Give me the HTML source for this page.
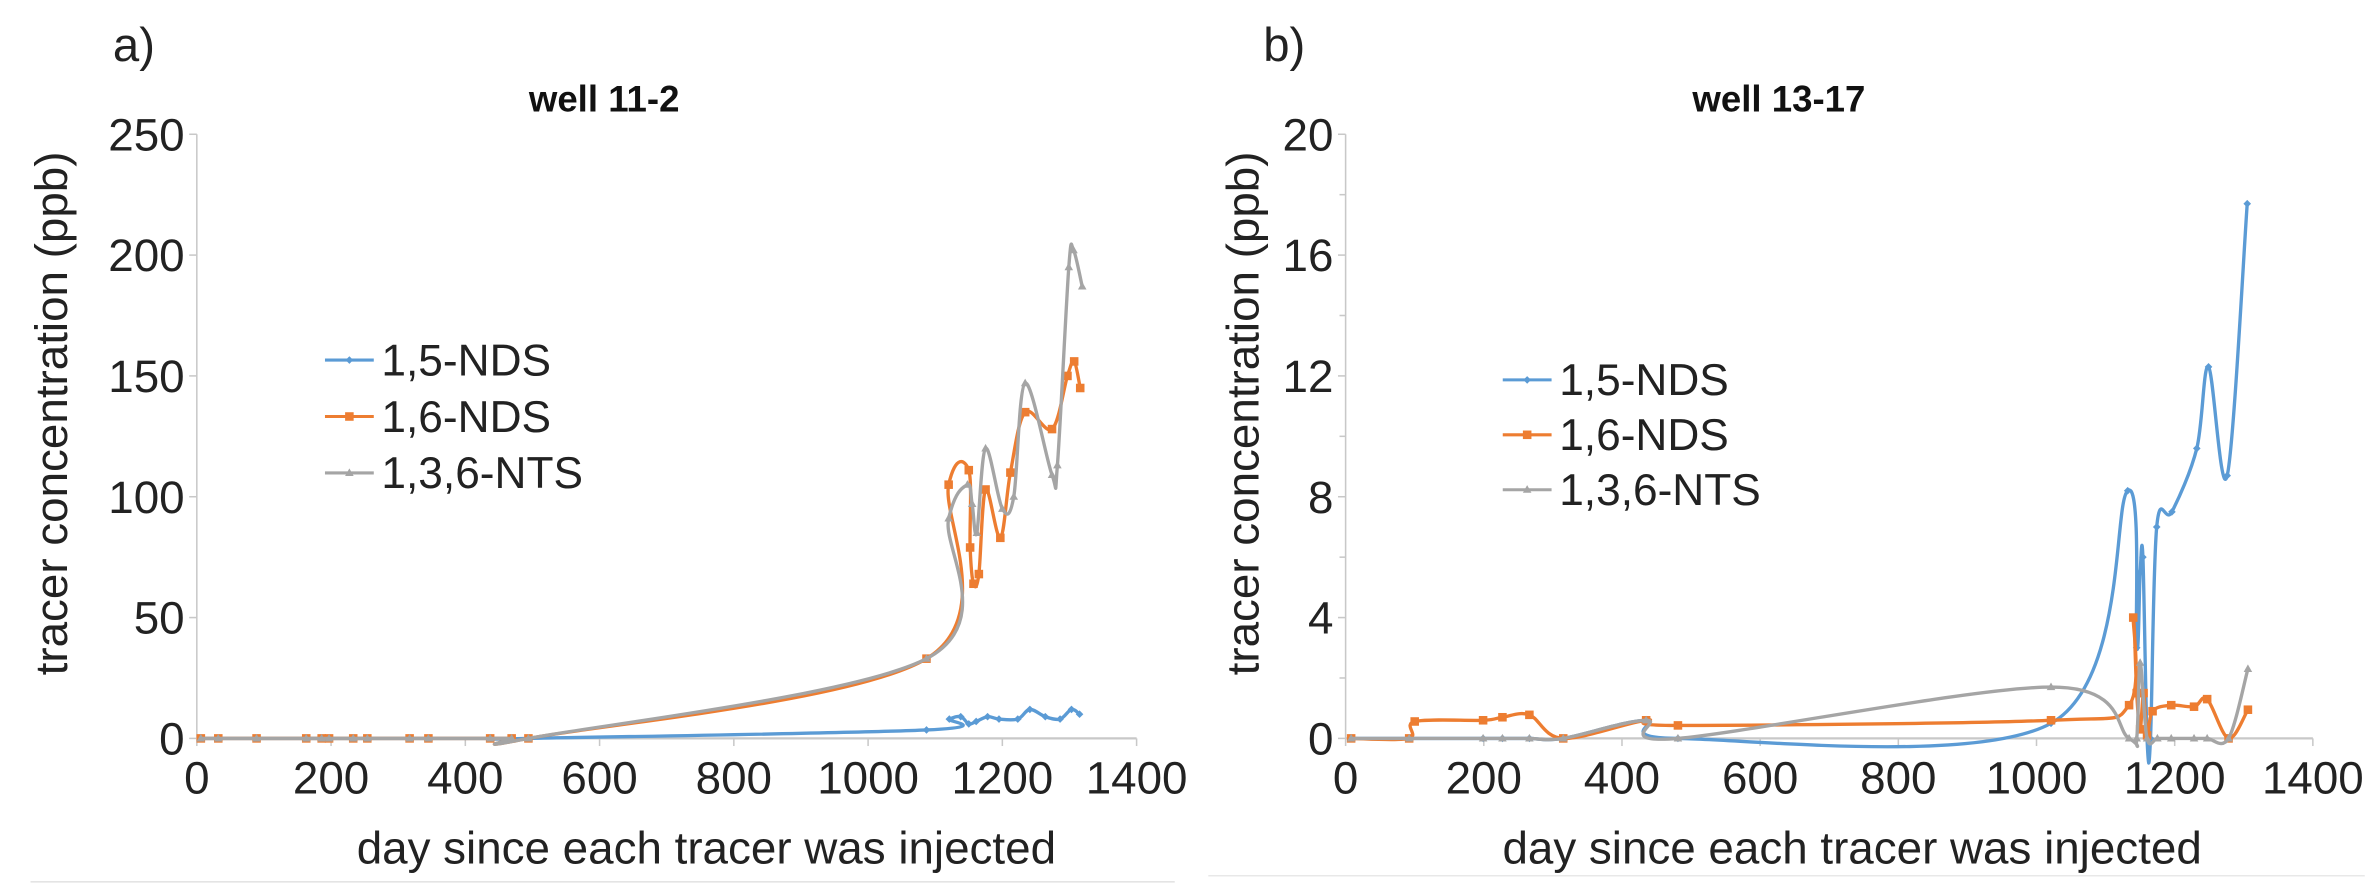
<!DOCTYPE html>
<html><head><meta charset="utf-8"><style>
html,body{margin:0;padding:0;background:#fff;}
svg{display:block;font-family:"Liberation Sans",sans-serif;}
</style></head><body>
<svg id="fig" width="2380" height="896" viewBox="0 0 1560 587.3" xmlns="http://www.w3.org/2000/svg">
<rect x="0" y="0" width="1560" height="587.3" fill="#fff"/>
<line x1="20" y1="578" x2="770" y2="578" stroke="#e4e4e4" stroke-width="1"/>
<line x1="792" y1="574" x2="1550" y2="574" stroke="#e8e8e8" stroke-width="1"/>
<text x="74" y="40" font-size="31" fill="#222">a)</text>
<text x="828" y="40" font-size="31" fill="#222">b)</text>
<text x="396" y="73" font-size="24" font-weight="bold" fill="#111" text-anchor="middle">well 11-2</text>
<text x="1166" y="73" font-size="24" font-weight="bold" fill="#111" text-anchor="middle">well 13-17</text>
<g id="chartA"></g>
<g id="chartB"></g>
</svg>
<script>
// ---- Chart A data (well 11-2) ----
const aYTicks = [0, 50, 100, 150, 200, 250];
const aXTicks = [0, 200, 400, 600, 800, 1000, 1200, 1400];
const aNds15Days = [6, 32, 89, 163, 186, 197, 233, 254, 317, 345, 437, 469, 494, 1087, 1121, 1138, 1150, 1161, 1178, 1195, 1223, 1241, 1264, 1286, 1303, 1315];
const aNds15Vals = [0, 0, 0, 0, 0, 0, 0, 0, 0, 0, 0, 0, 0, 3.5, 8, 9, 6, 7, 9, 8, 8, 12, 9, 8, 12, 10];
const aNds16Days = [6, 32, 89, 163, 186, 197, 233, 254, 317, 345, 437, 469, 494, 1087, 1120, 1150, 1152, 1157, 1165, 1175, 1197, 1212, 1234, 1274, 1297, 1307, 1316];
const aNds16Vals = [0, 0, 0, 0, 0, 0, 0, 0, 0, 0, 0, 0, 0, 33, 105, 111, 79, 64, 68, 103, 83, 110, 135, 128, 150, 156, 145];
const aNtsDays = [6, 32, 89, 163, 186, 197, 233, 254, 317, 345, 437, 469, 494, 1087, 1120, 1148, 1155, 1162, 1175, 1200, 1217, 1234, 1274, 1282, 1299, 1306, 1319];
const aNtsVals = [0, 0, 0, 0, 0, 0, 0, 0, 0, 0, 0, 0, 0, 33, 91, 105, 97, 85, 120, 95, 100, 147, 109, 113, 195, 202, 187];
// ---- Chart B data (well 13-17) ----
const bYTicks = [0, 4, 8, 12, 16, 20];
const bYMinor = [2, 6, 10, 14, 18];
const bXTicks = [0, 200, 400, 600, 800, 1000, 1200, 1400];
const bNds15Days = [8, 92, 199, 227, 266, 315, 435, 481, 1021, 1132, 1145, 1150, 1154, 1160, 1165, 1174, 1196, 1232, 1249, 1276, 1305];
const bNds15Vals = [0, 0, 0, 0, 0, 0, 0.6, 0, 0.5, 8.2, 3, 5.5, 6, 0, 0, 7.0, 7.5, 9.6, 12.3, 8.7, 17.7];
const bNds16Days = [8, 92, 100, 199, 227, 266, 315, 435, 481, 1021, 1134, 1140, 1145, 1150, 1155, 1160, 1168, 1195, 1228, 1247, 1278, 1306];
const bNds16Vals = [0, 0, 0.56, 0.6, 0.7, 0.78, 0, 0.6, 0.43, 0.6, 1.1, 4.0, 1.5, 0.3, 1.5, 0.1, 0.9, 1.1, 1.05, 1.3, 0, 0.95];
const bNtsDays = [8, 92, 199, 227, 266, 315, 435, 481, 1021, 1134, 1145, 1150, 1160, 1175, 1195, 1228, 1247, 1278, 1306];
const bNtsVals = [0, 0, 0, 0, 0, 0, 0.6, 0, 1.7, 0, 0, 2.5, 0, 0, 0, 0, 0, 0, 2.3];

const NS = "http://www.w3.org/2000/svg";
const COL = {blue: "#5b9bd5", orange: "#ed7d31", gray: "#a5a5a5"};
function mk(parent, tag, attrs) {
  const e = document.createElementNS(NS, tag);
  for (const k in attrs) e.setAttribute(k, attrs[k]);
  parent.appendChild(e);
  return e;
}
function smoothPath(pts) {
  let d = "M" + pts[0][0].toFixed(2) + "," + pts[0][1].toFixed(2);
  for (let i = 0; i < pts.length - 1; i++) {
    const p0 = pts[i - 1] || pts[i], p1 = pts[i], p2 = pts[i + 1], p3 = pts[i + 2] || p2;
    const t = 1 / 6;
    const c1x = p1[0] + (p2[0] - p0[0]) * t, c1y = p1[1] + (p2[1] - p0[1]) * t;
    const c2x = p2[0] - (p3[0] - p1[0]) * t, c2y = p2[1] - (p3[1] - p1[1]) * t;
    d += " C" + c1x.toFixed(2) + "," + c1y.toFixed(2) + " " + c2x.toFixed(2) + "," + c2y.toFixed(2) + " " + p2[0].toFixed(2) + "," + p2[1].toFixed(2);
  }
  return d;
}
function marker(g, kind, x, y, color) {
  let m;
  if (kind === "diamond") {
    m = mk(g, "path", {d: `M${x},${y-2.5} L${x+2.5},${y} L${x},${y+2.5} L${x-2.5},${y} Z`, fill: color});
  } else if (kind === "square") {
    m = mk(g, "rect", {x: x - 2.8, y: y - 2.8, width: 5.6, height: 5.6, fill: color});
  } else {
    m = mk(g, "path", {d: `M${x},${y-3} L${x+2.8},${y+2} L${x-2.8},${y+2} Z`, fill: color});
  }
  
  
}
function drawChart(root, cfg) {
  const X = d => cfg.x0 + (d - cfg.xmin) / (cfg.xmax - cfg.xmin) * (cfg.x1 - cfg.x0);
  const Y = v => cfg.y0 - (v - cfg.ymin) / (cfg.ymax - cfg.ymin) * (cfg.y0 - cfg.y1);
  const ax = mk(root, "g", {});
  
  
  const yl = mk(ax, "line", {x1: cfg.x0, y1: cfg.y1, x2: cfg.x0, y2: cfg.y0, stroke: "#c8c8c8", "stroke-width": 1});
  
  
  const xl = mk(ax, "line", {x1: cfg.x0, y1: cfg.y0, x2: cfg.x1, y2: cfg.y0, stroke: "#c8c8c8", "stroke-width": 1.5});
  
  
  cfg.yTicks.forEach(v => {
    mk(ax, "line", {x1: cfg.x0 - 5, y1: Y(v), x2: cfg.x0, y2: Y(v), stroke: "#c8c8c8"});
    const t = mk(ax, "text", {x: cfg.x0 - 8, y: Y(v) + 10.5, "font-size": 30, fill: "#222", "text-anchor": "end"});
    t.textContent = v;
    
    
  });
  (cfg.yMinor || []).forEach(v => {
    mk(ax, "line", {x1: cfg.x0 - 4, y1: Y(v), x2: cfg.x0, y2: Y(v), stroke: "#c8c8c8"});
  });
  cfg.xTicks.forEach(v => {
    mk(ax, "line", {x1: X(v), y1: cfg.y0, x2: X(v), y2: cfg.y0 + 5, stroke: "#c8c8c8"});
    const t = mk(ax, "text", {x: X(v), y: cfg.y0 + 36, "font-size": 30, fill: "#222", "text-anchor": "middle"});
    t.textContent = v;
    
    
  });
  const yt = mk(ax, "text", {x: 0, y: 0, "font-size": 30, fill: "#222", "text-anchor": "middle", transform: `translate(${cfg.yTitleX},${cfg.yTitleY}) rotate(-90)`});
  yt.textContent = "tracer concentration (ppb)";
  
  
  const xt = mk(ax, "text", {x: cfg.xTitleX, y: cfg.xTitleY, "font-size": 30, fill: "#222", "text-anchor": "middle"});
  xt.textContent = "day since each tracer was injected";
  
  
  cfg.series.forEach(s => {
    const g = mk(root, "g", {});
    
    
    const pts = s.days.map((d, i) => [X(d), Y(s.vals[i])]);
    const p = mk(g, "path", {d: smoothPath(pts), fill: "none", stroke: s.color, "stroke-width": 2.2, "stroke-linejoin": "round"});
    
    
    pts.forEach(q => marker(g, s.marker, q[0], q[1], s.color));
  });
  const lg = mk(root, "g", {});
  
  
  cfg.series.forEach((s, i) => {
    const yy = cfg.legY + i * cfg.legStep;
    const e = mk(lg, "g", {});
    
    
    mk(e, "line", {x1: cfg.legX, y1: yy, x2: cfg.legX + 32, y2: yy, stroke: s.color, "stroke-width": 2});
    marker(e, s.marker, cfg.legX + 16, yy, s.color);
    const t = mk(e, "text", {x: cfg.legX + 37, y: yy + 10, "font-size": 29, fill: "#222"});
    t.textContent = s.label;
  });
}
drawChart(document.getElementById("chartA"), {
  x0: 129, x1: 745, xmin: 0, xmax: 1400, y0: 484, y1: 88, ymin: 0, ymax: 250,
  yTicks: aYTicks, xTicks: aXTicks, yTitleX: 44, yTitleY: 271, xTitleX: 463, xTitleY: 566,
  legX: 213, legY: 236, legStep: 37,
  series: [
    {name: "nds-1-5", label: "1,5-NDS", color: COL.blue, marker: "diamond", days: aNds15Days, vals: aNds15Vals},
    {name: "nds-1-6", label: "1,6-NDS", color: COL.orange, marker: "square", days: aNds16Days, vals: aNds16Vals},
    {name: "nts-1-3-6", label: "1,3,6-NTS", color: COL.gray, marker: "triangle", days: aNtsDays, vals: aNtsVals}
  ]
});
drawChart(document.getElementById("chartB"), {
  x0: 882, x1: 1516, xmin: 0, xmax: 1400, y0: 484, y1: 88, ymin: 0, ymax: 20,
  yTicks: bYTicks, yMinor: bYMinor, xTicks: bXTicks, yTitleX: 825, yTitleY: 271, xTitleX: 1214, xTitleY: 566,
  legX: 985, legY: 249, legStep: 36,
  series: [
    {name: "nds-1-5", label: "1,5-NDS", color: COL.blue, marker: "diamond", days: bNds15Days, vals: bNds15Vals},
    {name: "nds-1-6", label: "1,6-NDS", color: COL.orange, marker: "square", days: bNds16Days, vals: bNds16Vals},
    {name: "nts-1-3-6", label: "1,3,6-NTS", color: COL.gray, marker: "triangle", days: bNtsDays, vals: bNtsVals}
  ]
});
</script>
</body></html>
